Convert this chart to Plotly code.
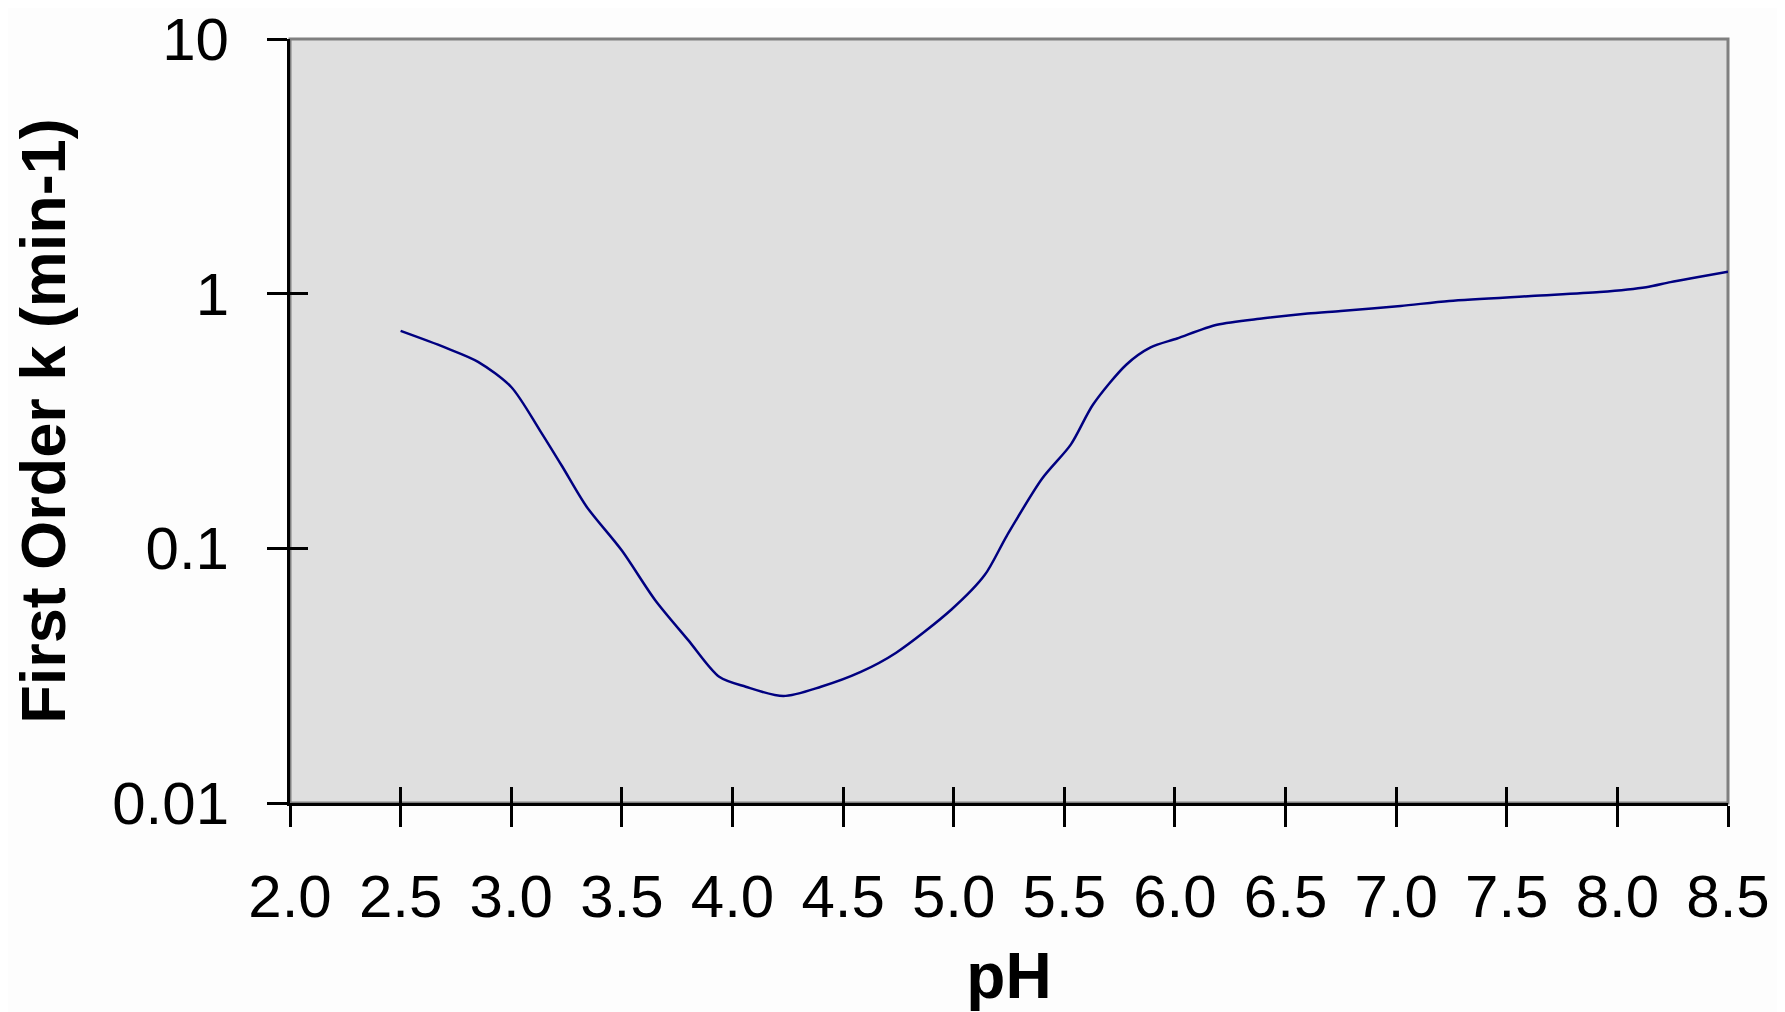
import plotly.graph_objects as go

# valeurs
ph = [2.50, 2.70, 2.85, 3.00, 3.13, 3.23, 3.34, 3.50, 3.65, 3.80, 3.94, 4.06,
      4.23, 4.40, 4.58, 4.74, 4.99, 5.14, 5.24, 5.40, 5.53, 5.63, 5.78, 5.89,
      6.01, 6.19, 6.40, 6.60, 6.75, 7.02, 7.24, 7.61, 7.92, 8.13, 8.24, 8.36,
      8.50]
k = [0.714, 0.615, 0.54, 0.43, 0.29, 0.21, 0.146, 0.098, 0.0627, 0.0436,
     0.0313, 0.0286, 0.0263, 0.0286, 0.0327, 0.0389, 0.0575, 0.0785, 0.112,
     0.188, 0.256, 0.367, 0.526, 0.615, 0.667, 0.755, 0.80, 0.835, 0.855,
     0.895, 0.936, 0.979, 1.015, 1.06, 1.11, 1.16, 1.22]

x_ticks = [2.0, 2.5, 3.0, 3.5, 4.0, 4.5, 5.0, 5.5, 6.0, 6.5, 7.0, 7.5, 8.0, 8.5]
x_labels = ["2.0", "2.5", "3.0", "3.5", "4.0", "4.5", "5.0", "5.5", "6.0",
            "6.5", "7.0", "7.5", "8.0", "8.5"]
y_ticks = [0.01, 0.1, 1, 10]
y_labels = ["0.01", "0.1", "1", "10"]

FONT = "Liberation Sans, Arial, sans-serif"

fig = go.Figure()

# courbe principale (lissée comme dans Excel)
fig.add_trace(go.Scatter(x=ph, y=k, mode="lines",
                         line=dict(color="#000080", width=2.5,
                                   shape="spline", smoothing=0.8),
                         hoverinfo="skip", showlegend=False))
# trace invisible pour porter les axes superposés (ticks intérieurs)
fig.add_trace(go.Scatter(x=ph, y=k, mode="lines", xaxis="x2", yaxis="y2",
                         line=dict(color="rgba(0,0,0,0)", width=0),
                         hoverinfo="skip", showlegend=False))

fig.update_layout(
    width=1777, height=1004,
    margin=dict(l=282, r=57, t=31, b=209),
    paper_bgcolor="#fdfdfd",
    plot_bgcolor="#dfdfdf",
    font=dict(family=FONT, color="black"),
    xaxis=dict(range=[2.0, 8.5], tickvals=x_ticks, ticktext=x_labels,
               ticks="outside", ticklen=21, tickwidth=3, tickcolor="black",
               showline=True, linecolor="black", linewidth=3,
               showgrid=False, zeroline=False, automargin=False,
               tickfont=dict(size=60, family=FONT),
               ticklabelstandoff=18, ticklabeloverflow="allow",
               title=dict(text="<b>pH</b>", standoff=31,
                          font=dict(size=64, family=FONT))),
    yaxis=dict(type="log", range=[-2, 1], tickvals=y_ticks, ticktext=y_labels,
               ticks="outside", ticklen=20, tickwidth=3, tickcolor="black",
               showline=True, linecolor="black", linewidth=3,
               showgrid=False, zeroline=False, automargin=False,
               tickfont=dict(size=60, family=FONT),
               ticklabelstandoff=26, ticklabeloverflow="allow",
               title=dict(text="<b>First Order k (min-1)</b>", standoff=43,
                          font=dict(size=63, family=FONT))),
    xaxis2=dict(overlaying="x", anchor="y", side="bottom", range=[2.0, 8.5],
                tickvals=x_ticks, ticks="inside", ticklen=16, tickwidth=3,
                tickcolor="black", showticklabels=False, showgrid=False,
                zeroline=False, showline=False, automargin=False),
    yaxis2=dict(overlaying="y", anchor="x", side="left", type="log",
                range=[-2, 1], tickvals=y_ticks, ticks="inside", ticklen=18,
                tickwidth=3, tickcolor="black", showticklabels=False,
                showgrid=False, zeroline=False, showline=False,
                automargin=False),
    shapes=[dict(type="rect", xref="paper", yref="paper", x0=0, x1=1,
                 y0=0, y1=1, line=dict(color="#808080", width=3),
                 layer="below")],
)

fig.write_html("out.html")
